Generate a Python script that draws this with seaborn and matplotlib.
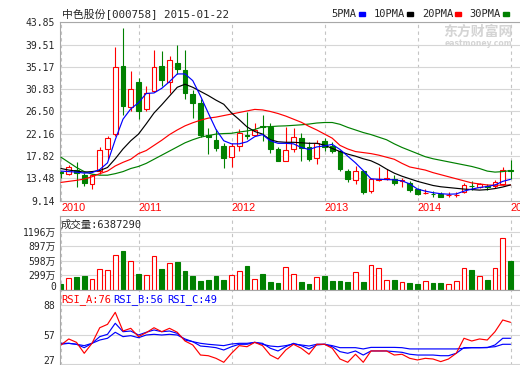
import numpy as np
import pandas as pd
import matplotlib
matplotlib.use('Agg')
import matplotlib.pyplot as plt
from matplotlib.patches import Rectangle
import seaborn as sns

# monthly bars, Mar 2010 .. Jan 2015
months = pd.period_range('2010-03', '2015-01', freq='M').strftime('%Y-%m').tolist()

open_ = [14.8, 14.4, 15.2, 14.1, 12.3, 14.85, 19.2, 22.2, 35.25, 27.4,
         32.2, 26.9, 30.57, 35.25, 32.24, 36.0, 34.48, 29.99, 28.07, 21.98,
         21.0, 19.86, 17.61, 19.73, 21.98, 21.92, 23.71, 23.52, 19.22, 16.84,
         19.22, 21.33, 19.54, 17.42, 20.82, 19.86, 18.9, 14.92, 13.25, 14.92,
         11.0, 13.25, 13.44, 13.44, 12.93, 12.6, 11.39, 10.6, 10.45, 10.42,
         10.15, 10.15, 10.87, 12.05, 11.84, 11.97, 12.03, 12.4, 15.1]
close = [14.5, 15.7, 14.5, 12.5, 14.1, 19.0, 21.3, 35.1, 27.6, 30.95,
         26.6, 30.0, 35.06, 32.69, 36.5, 34.7, 30.12, 28.07, 21.98, 21.47,
         19.35, 17.42, 19.86, 22.3, 21.66, 22.94, 23.39, 19.22, 16.84, 19.02,
         21.47, 19.4, 17.16, 20.3, 19.67, 18.71, 15.24, 13.31, 14.85, 10.75,
         13.31, 13.44, 13.57, 12.67, 13.12, 11.19, 10.42, 10.7, 10.4, 9.91,
         10.2, 10.2, 12.16, 11.95, 12.29, 11.75, 12.8, 15.05, 14.9]
high = [15.0, 16.0, 16.6, 14.6, 14.4, 19.5, 21.65, 39.1, 42.8, 34.4,
        33.1, 31.4, 38.5, 38.3, 37.2, 39.5, 38.4, 30.76, 28.9, 23.26,
        23.07, 20.37, 20.37, 23.07, 26.41, 24.2, 25.77, 24.2, 19.5, 23.39,
        23.26, 22.24, 20.6, 21.0, 21.33, 20.6, 19.0, 15.37, 15.8, 15.05,
        13.63, 15.69, 15.24, 14.21, 13.57, 12.93, 11.6, 11.5, 11.06, 10.8,
        10.74, 10.8, 12.5, 12.99, 12.6, 12.48, 13.25, 15.69, 16.97]
low = [13.6, 14.1, 11.8, 12.0, 11.5, 14.4, 17.3, 21.8, 25.8, 26.6,
       25.0, 26.6, 30.3, 31.5, 30.0, 33.8, 28.97, 25.3, 21.6, 18.25,
       18.9, 15.5, 15.69, 18.9, 21.2, 21.66, 20.82, 18.45, 16.8, 16.84,
       18.7, 16.84, 16.84, 16.2, 18.9, 18.45, 15.0, 12.8, 12.48, 10.36,
       10.55, 12.93, 13.12, 12.16, 11.84, 10.87, 10.3, 10.5, 9.9, 9.8,
       9.78, 9.78, 10.6, 11.2, 11.6, 11.2, 11.7, 12.16, 13.3]

# volume in 万
volume = [124, 241, 254, 289, 220, 427, 412, 715, 790, 598,
          330, 302, 701, 433, 550, 564, 378, 275, 172, 206,
          289, 192, 302, 392, 495, 227, 330, 165, 137, 467,
          323, 165, 117, 261, 275, 186, 186, 165, 364, 165,
          509, 447, 206, 206, 165, 137, 117, 179, 137, 137,
          117, 179, 440, 406, 282, 206, 440, 1066, 600]

ma5 = [14.9, 14.8, 14.7, 14.5, 14.6, 15.2, 16.5, 21.0, 25.0, 27.0,
       28.2, 30.0, 30.1, 31.0, 32.3, 33.8, 33.8, 32.5, 29.5, 26.2,
       23.0, 20.8, 20.2, 20.2, 20.6, 21.6, 22.0, 20.8, 20.3, 20.3,
       20.2, 19.5, 19.1, 19.6, 19.8, 20.1, 19.1, 17.8, 16.5, 15.0,
       13.4, 13.3, 13.25, 13.2, 13.0, 12.4, 11.4, 11.0, 10.7, 10.5,
       10.4, 10.45, 11.0, 11.4, 11.7, 11.9, 12.2, 12.9, 13.3]
ma10 = [15.4, 15.1, 14.9, 14.7, 14.8, 15.0, 15.6, 17.3, 19.2, 20.8,
        22.1, 24.1, 26.2, 27.8, 29.5, 31.2, 31.8, 31.2, 30.4, 29.6,
        28.7, 27.9, 26.2, 24.9, 23.5, 22.6, 22.1, 21.0, 20.6, 20.5,
        20.5, 20.4, 20.3, 20.3, 19.95, 19.3, 18.7, 18.2, 17.8, 17.3,
        16.9, 16.2, 15.3, 14.5, 13.9, 13.4, 12.9, 12.5, 12.1, 11.85,
        11.7, 11.55, 11.4, 11.3, 11.2, 11.3, 11.5, 11.8, 12.2]
ma20 = [12.7, 12.9, 13.1, 13.35, 13.8, 14.4, 14.9, 15.9, 16.6, 17.2,
        18.3, 18.9, 19.9, 20.9, 22.0, 22.9, 23.7, 24.3, 24.8, 25.2,
        25.4, 25.7, 26.0, 26.3, 26.6, 26.9, 26.8, 26.5, 26.1, 25.6,
        25.0, 24.4, 23.6, 22.9, 22.1, 21.3, 19.9, 19.2, 18.7, 18.5,
        18.3, 18.0, 17.6, 17.2, 16.4, 15.7, 15.4, 15.1, 14.6, 14.2,
        13.8, 13.4, 13.0, 12.6, 12.4, 12.2, 12.15, 12.15, 12.2]
ma30 = [17.6, 16.6, 15.6, 14.8, 14.3, 14.1, 14.1, 14.4, 14.8, 15.4,
        15.8, 16.4, 17.2, 18.0, 18.8, 19.6, 20.4, 21.0, 21.5, 21.8,
        22.1, 22.2, 22.25, 22.5, 22.7, 23.0, 23.5, 23.55, 23.65, 23.7,
        23.8, 23.9, 24.05, 24.25, 24.35, 24.35, 24.0, 23.4, 22.9, 22.4,
        22.0, 21.5, 21.0, 20.2, 19.5, 18.9, 18.3, 17.7, 17.3, 17.0,
        16.7, 16.4, 16.1, 15.8, 15.4, 14.9, 14.7, 14.8, 15.0]

rsi_a = [46.7, 52.9, 49.4, 38.1, 48.4, 64.5, 68.0, 80.4, 61.1, 63.9,
         55.3, 59.4, 64.5, 60.4, 63.9, 59.8, 50.8, 46.7, 36.3, 35.6,
         32.9, 28.8, 38.1, 46.0, 44.9, 49.4, 46.0, 36.3, 32.2, 41.5,
         47.4, 43.3, 37.1, 47.4, 47.4, 43.3, 32.2, 28.8, 37.1, 28.8,
         40.5, 40.5, 40.5, 36.3, 37.1, 32.9, 31.2, 32.9, 32.2, 29.5,
         32.2, 38.1, 53.6, 50.8, 52.9, 51.8, 60.4, 72.5, 70.1]
rsi_b = [47.4, 48.4, 47.4, 43.9, 48.4, 55.3, 57.7, 69.1, 60.4, 61.1,
         57.0, 59.8, 62.2, 60.4, 61.1, 58.7, 51.8, 50.1, 45.6, 44.9,
         43.9, 41.5, 44.9, 47.4, 47.4, 49.4, 48.4, 43.3, 40.5, 44.9,
         48.4, 46.0, 42.6, 46.7, 47.4, 44.9, 39.8, 38.1, 40.5, 36.3,
         40.5, 40.5, 40.5, 39.8, 39.1, 37.1, 36.3, 36.3, 36.3, 35.6,
         35.6, 38.1, 43.9, 43.9, 43.9, 43.9, 46.7, 53.6, 53.6]
rsi_c = [48.4, 48.4, 47.4, 46.0, 48.4, 51.8, 53.6, 59.8, 55.3, 56.3,
         54.2, 57.0, 57.7, 57.0, 57.7, 57.0, 52.9, 50.1, 48.4, 47.4,
         46.7, 46.0, 47.7, 48.4, 48.4, 49.4, 47.4, 45.6, 44.9, 46.0,
         47.7, 46.7, 45.6, 47.4, 47.4, 46.0, 43.9, 43.9, 43.9, 42.6,
         44.2, 44.2, 44.2, 44.2, 43.9, 42.6, 42.6, 42.6, 42.6, 42.6,
         42.6, 42.6, 43.3, 43.9, 43.9, 44.2, 44.9, 47.4, 47.4]

price_ticks = [9.14, 13.48, 17.82, 22.16, 26.50, 30.83, 35.17, 39.51, 43.85]
vol_ticks = [0, 299, 598, 897, 1196]
vol_labels = ['0', '299万', '598万', '897万', '1196万']
rsi_ticks = [27, 57, 88]

sns.set_style('white')
plt.rcParams['font.family'] = ['DejaVu Sans Mono', 'Noto Sans CJK SC']

RED, GREEN, BLUE = '#ff0000', '#008000', '#0000ff'
FRAME = '#a8a8a8'

W, H = 520, 365
fig = plt.figure(figsize=(W / 100, H / 100), dpi=100)


def box(left, top, right, bottom):
    return [left / W, 1 - bottom / H, (right - left) / W, (bottom - top) / H]


ax_p = fig.add_axes(box(60, 21.5, 530, 201))
ax_v = fig.add_axes(box(60, 216, 530, 289.5))
ax_r = fig.add_axes(box(60, 289.5, 530, 365))

idx = np.arange(len(months))
o, c = np.array(open_), np.array(close)
up = c >= o
edge = np.where(up, RED, GREEN)
fill = np.where(up, 'white', GREEN)

step = 7.75
year_pos = [i for i, m in enumerate(months) if i == 0 or m.endswith('-01')]
year_lab = [months[i][:4] for i in year_pos]

for ax in (ax_p, ax_v, ax_r):
    ax.set_xlim(-1 / step, -1 / step + 470 / step)
    ax.set_xticks(year_pos)
    ax.grid(axis='x', color='#c4c4c4', lw=0.8, ls=(0, (3, 3)))
    ax.grid(axis='y', color='#d6d6d6', lw=0.8)
    ax.set_axisbelow(True)
    for s in ax.spines.values():
        s.set_color(FRAME)
        s.set_linewidth(0.8)
    ax.tick_params(length=0)

# candles
ax_p.vlines(idx, low, high, colors=edge, lw=0.8, zorder=2)
ax_p.bar(idx, np.maximum(np.abs(c - o), 0.07), bottom=np.minimum(o, c), width=0.6,
         color=fill, edgecolor=edge, linewidth=0.8, zorder=3)
for vals, colr in [(ma30, GREEN), (ma20, RED), (ma10, 'black'), (ma5, BLUE)]:
    sns.lineplot(x=idx, y=vals, ax=ax_p, color=colr, linewidth=0.85, zorder=4)
ax_p.set_ylim(9.08, 44.0)
ax_p.set_yticks(price_ticks)
ax_p.set_yticklabels([f'{v:.2f}' for v in price_ticks])
ax_p.tick_params(axis='y', pad=3.5, labelsize=7)
ax_p.set_xticklabels(year_lab)
ax_p.tick_params(axis='x', pad=1.5, labelsize=7.8, labelcolor=RED)
for t in ax_p.get_xticklabels():
    t.set_ha('left')
    t.set_family('Liberation Sans')
ax_p.set_xlabel('')
ax_p.set_ylabel('')

# volume
ax_v.bar(idx, volume, width=0.62, color=fill, edgecolor=edge, linewidth=0.8)
ax_v.set_ylim(0, 1526)
ax_v.set_yticks(vol_ticks)
ax_v.set_yticklabels(vol_labels)
ax_v.tick_params(axis='y', pad=3, labelsize=7)
ax_v.tick_params(axis='x', labelbottom=False)
ax_v.get_yticklabels()[0].set_va('baseline')

# RSI
for vals, colr in [(rsi_c, BLUE), (rsi_b, BLUE), (rsi_a, RED)]:
    sns.lineplot(x=idx, y=vals, ax=ax_r, color=colr, linewidth=0.85)
ax_r.set_ylim(26.0, 104.0)
ax_r.set_yticks(rsi_ticks)
ax_r.set_yticklabels([str(v) for v in rsi_ticks])
ax_r.tick_params(axis='y', pad=3.5, labelsize=7)
ax_r.tick_params(axis='x', labelbottom=False)
ax_r.get_yticklabels()[0].set_va('baseline')
ax_r.set_xlabel('')
ax_r.set_ylabel('')

# header texts
fig.text(62 / W, 1 - 14 / H, '中色股份[000758] 2015-01-22', fontsize=7.8, va='center')
for name, tx, rx, colr in [('5PMA', 331, 359, BLUE), ('10PMA', 374, 407, 'black'),
                           ('20PMA', 422, 455, RED), ('30PMA', 469, 503, GREEN)]:
    fig.text(tx / W, 1 - 14 / H, name, fontsize=7.5, va='center')
    fig.add_artist(Rectangle((rx / W, 1 - 16 / H), 6 / W, 3.5 / H,
                             transform=fig.transFigure, color=colr))

fig.text(478 / W, 1 - 32 / H, '东方财富网', color='#d4d4d4', fontsize=10,
         fontweight='bold', ha='center', va='center', family='Noto Sans CJK SC')
fig.text(478 / W, 1 - 43 / H, 'eastmoney.com', color='#d4d4d4', fontsize=5.5,
         fontweight='bold', ha='center', va='center', family='DejaVu Sans')

fig.text(61 / W, 1 - 225 / H, '成交量:6387290', fontsize=7.5, va='center')
for name, tx, colr in [('RSI_A:76', 61, RED), ('RSI_B:56', 113, BLUE), ('RSI_C:49', 167, BLUE)]:
    fig.text(tx / W, 1 - 300 / H, name, fontsize=7.5, va='center', color=colr)

fig.savefig('out.png', dpi=100)
